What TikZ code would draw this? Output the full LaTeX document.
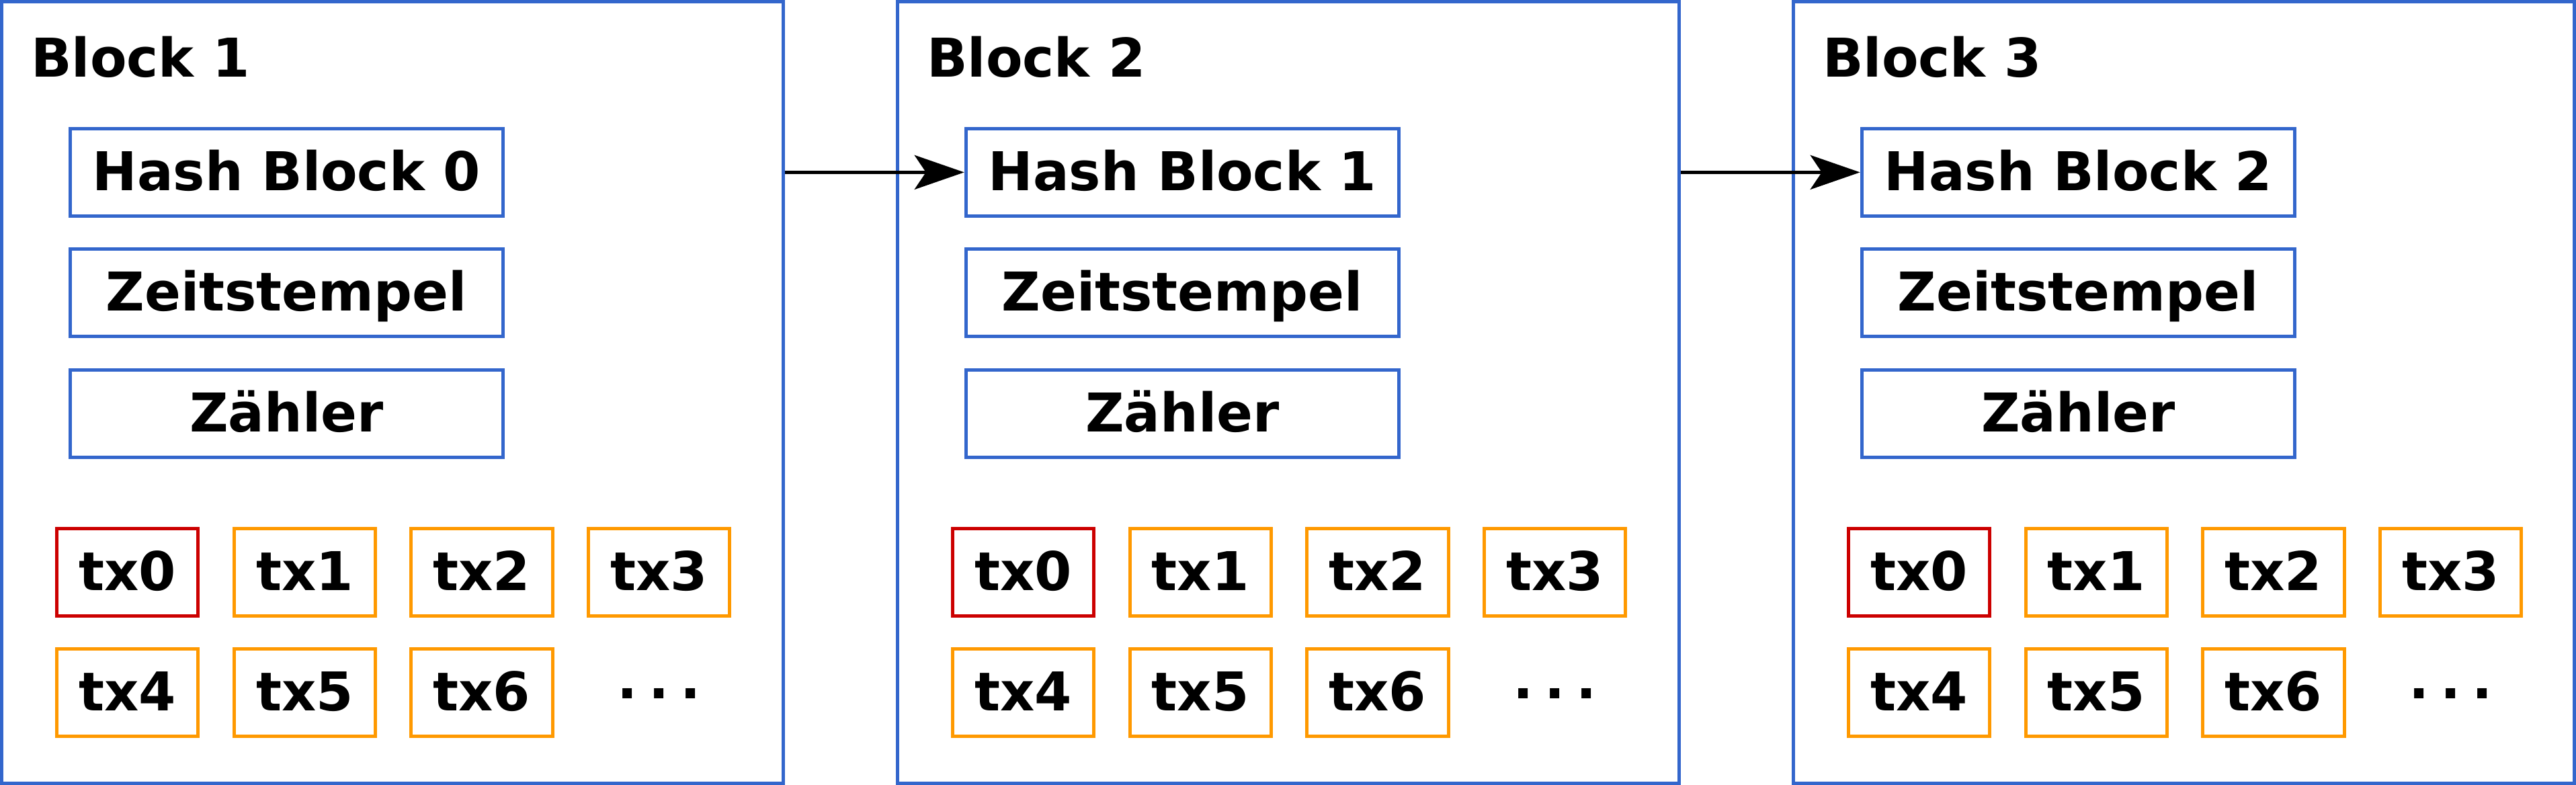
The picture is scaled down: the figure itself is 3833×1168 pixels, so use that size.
\documentclass[tikz,border=0pt]{standalone}
\usepackage{fontspec}
\setmainfont{DejaVu Sans}
\usetikzlibrary{arrows.meta}
\definecolor{blk}{RGB}{51,102,204}
\definecolor{org}{RGB}{255,153,0}
\definecolor{redz}{RGB}{204,0,0}
\tikzset{
  every node/.style={font=\fontsize{15.9}{19}\selectfont\bfseries},
  frame/.style={draw=blk, line width=1pt, minimum width=232.54pt, minimum height=232.64pt, inner sep=0pt},
  field/.style={draw=blk, line width=1pt, minimum width=128.8pt, minimum height=26pt, inner sep=0pt, text height=13pt, text depth=2.2pt},
  txbox/.style={draw=org, line width=1pt, minimum width=42.1pt, minimum height=26pt, inner sep=0pt, text height=13pt, text depth=2.2pt},
  coinbase/.style={txbox, draw=redz},
  title/.style={anchor=base west, inner sep=0pt},
  dotsnode/.style={anchor=base, inner sep=0pt},
  link/.style={line width=1pt, -{Stealth[length=14.8pt, width=10.2pt, inset=3.4pt]}},
}
\begin{document}
\begin{tikzpicture}[x=0.2pt,y=-0.2pt]
\useasboundingbox (0,0) rectangle (3833,1168);
\foreach \k in {1,2,3} {
  \pgfmathsetmacro{\L}{2.3+1332.95*(\k-1)}
  \pgfmathtruncatemacro{\p}{\k-1}
  \node[frame] (b\k) at (\L+581.35, 583.9) {};
  \node[title] (t\k) at (\L+43, 114.5) {Block \k};
  \node[field] (h\k) at (\L+424, 256.4) {Hash Block \p};
  \node[field] (z\k) at (\L+424, 435.9) {Zeitstempel};
  \node[field] (c\k) at (\L+424, 615.9) {Zähler};
  \node[coinbase] (tx\k-0) at (\L+187.3, 851.2) {tx0};
  \node[txbox] (tx\k-1) at (\L+451, 851.2) {tx1};
  \node[txbox] (tx\k-2) at (\L+714.6, 851.2) {tx2};
  \node[txbox] (tx\k-3) at (\L+978.2, 851.2) {tx3};
  \node[txbox] (tx\k-4) at (\L+187.3, 1030.5) {tx4};
  \node[txbox] (tx\k-5) at (\L+451, 1030.5) {tx5};
  \node[txbox] (tx\k-6) at (\L+714.6, 1030.5) {tx6};
  \node[dotsnode] (d\k) at (\L+978.2, 1039.7) {.\kern3.3pt.\kern3.3pt.};
}
\draw[link] (b1.east |- h2.west) -- (h2.west);
\draw[link] (b2.east |- h3.west) -- (h3.west);
\end{tikzpicture}
\end{document}
